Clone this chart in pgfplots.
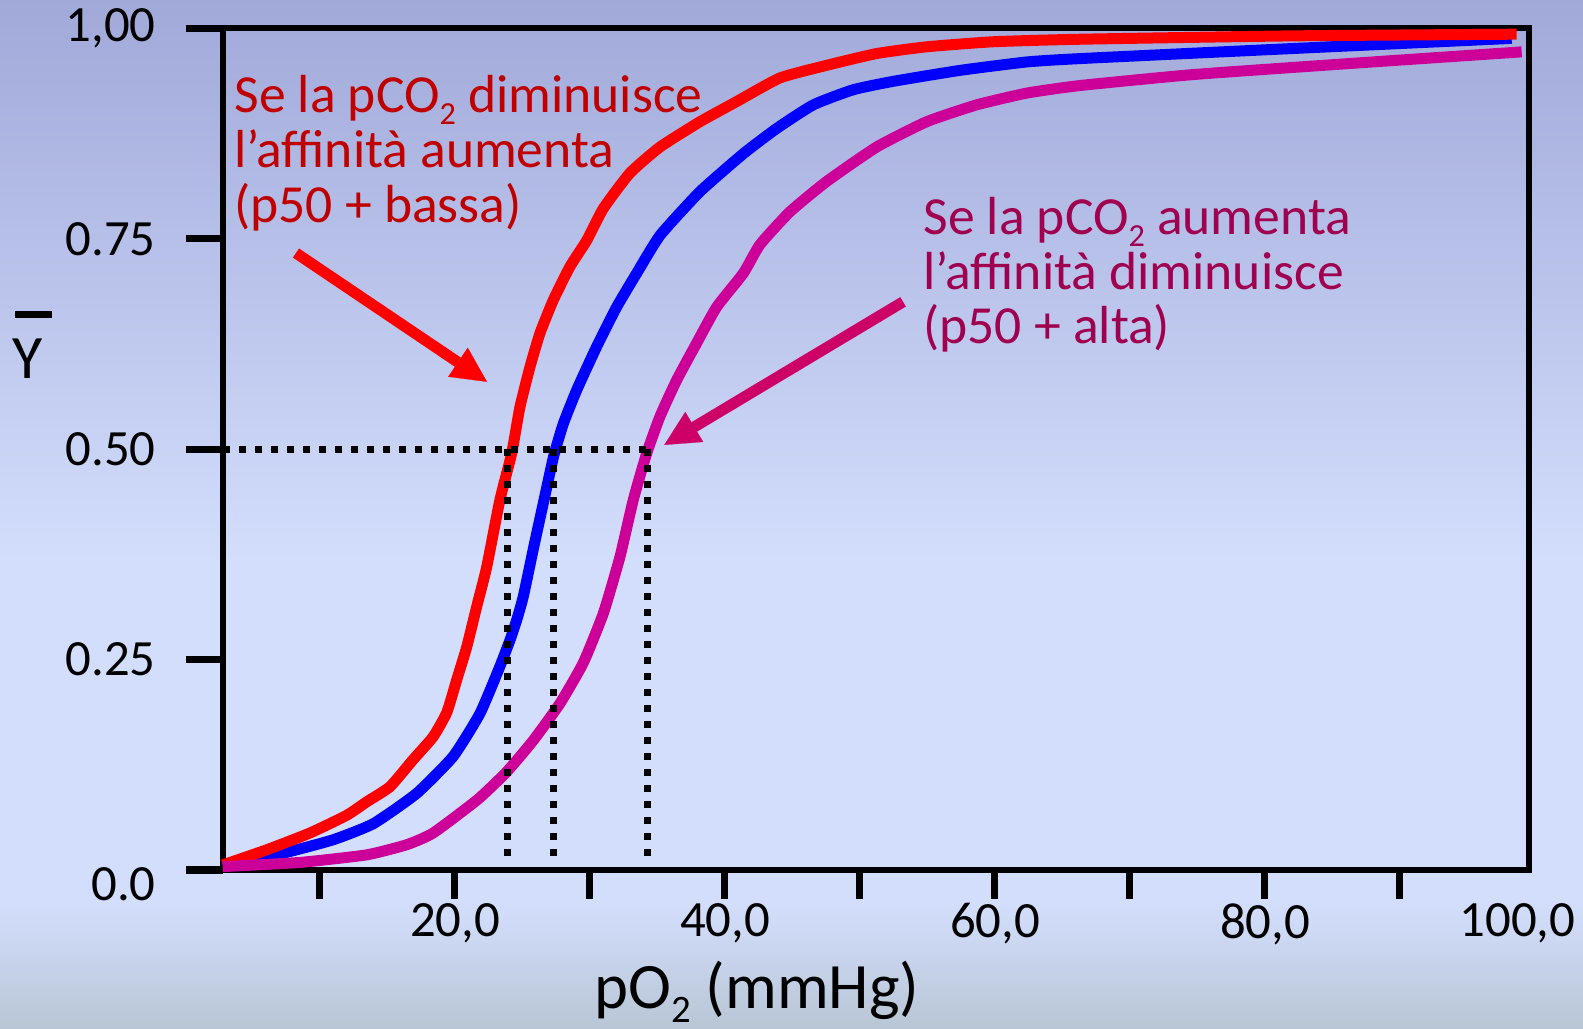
\documentclass[border=0pt]{standalone}
\usepackage{pgfplots}
\usepackage{pgfplotstable}
\pgfplotsset{compat=1.18}
\usepackage{fontspec}
\setmainfont{Carlito}
\usetikzlibrary{arrows.meta}

\definecolor{bgtop}{RGB}{161,169,217}
\definecolor{bgmid}{RGB}{211,222,252}
\definecolor{bgedge}{RGB}{206,217,245}
\definecolor{bgbot}{RGB}{184,198,213}
\definecolor{curvelow}{RGB}{255,0,0}
\definecolor{curvenorm}{RGB}{0,0,255}
\definecolor{curvehigh}{RGB}{204,0,153}
\definecolor{arrowhigh}{RGB}{204,0,102}
\definecolor{notelow}{RGB}{192,0,0}
\definecolor{notehigh}{RGB}{160,0,80}

\newcommand{\subtwo}{\raisebox{-0.22em}{\scalebox{0.6}{2}}}

% saturation curves: pO2 (mmHg) vs fractional saturation
\pgfplotstableread{
x y
2.80 0.006
6.05 0.024
9.26 0.044
11.98 0.065
13.46 0.081
15.19 0.099
16.89 0.131
18.37 0.158
19.39 0.187
20.13 0.226
20.87 0.265
21.61 0.313
22.35 0.360
23.33 0.440
24.20 0.495
24.81 0.550
25.56 0.598
26.30 0.638
27.28 0.677
28.52 0.717
29.76 0.748
30.99 0.786
32.96 0.828
35.19 0.859
38.15 0.889
40.87 0.913
44.07 0.941
47.53 0.956
51.24 0.970
54.94 0.978
59.87 0.984
66.30 0.987
82.07 0.991
98.64 0.993
}\lowco

\pgfplotstableread{
x y
2.80 0.005
7.28 0.020
10.99 0.036
13.95 0.055
17.16 0.091
19.87 0.135
21.85 0.186
23.33 0.242
24.07 0.273
24.57 0.297
25.06 0.325
25.85 0.385
26.60 0.440
27.30 0.491
28.02 0.530
29.01 0.570
30.50 0.622
31.98 0.669
33.46 0.709
35.19 0.754
38.15 0.806
41.36 0.851
43.83 0.881
46.54 0.909
49.50 0.927
52.47 0.937
57.41 0.950
62.35 0.960
66.30 0.964
82.10 0.976
98.27 0.988
}\normco

\pgfplotstableread{
x y
2.80 0.004
8.52 0.009
13.46 0.018
16.42 0.030
18.39 0.044
21.70 0.084
23.85 0.117
25.80 0.154
27.78 0.198
29.50 0.246
30.99 0.305
32.22 0.372
33.21 0.440
34.20 0.495
35.19 0.539
36.42 0.582
37.90 0.626
39.39 0.669
41.36 0.709
42.59 0.743
44.81 0.782
47.53 0.818
51.24 0.859
54.94 0.889
58.64 0.909
62.35 0.923
66.30 0.932
74.67 0.945
87.04 0.959
99.01 0.972
}\highco

\begin{document}
\begin{tikzpicture}
\useasboundingbox (0bp,0bp) rectangle (791.5bp,514.5bp);
% slide background
\fill[top color=bgtop,bottom color=bgmid] (0bp,234bp) rectangle (791.5bp,514.5bp);
\fill[bgmid] (0bp,64bp) rectangle (791.5bp,234.5bp);
\fill[top color=bgmid,bottom color=bgedge] (0bp,49bp) rectangle (791.5bp,64.5bp);
\fill[top color=bgedge,bottom color=bgbot] (0bp,0bp) rectangle (791.5bp,49.5bp);

\begin{axis}[
  at={(111.5bp,79.5bp)}, anchor=south west,
  scale only axis, width=652.75bp, height=420.85bp,
  xmin=2.815, xmax=99.52, ymin=0, ymax=1,
  clip=false,
  axis line style={line width=3bp, black},
  tick pos=left, tick align=outside,
  major tick length=18.5bp,
  tick style={black, line width=3.5bp},
  xtick={10,20,...,90},
  xticklabels={{},{20,0},{},{40,0},{},{60,0},{},{80,0},{}},
  xtick style={/pgfplots/major tick length=14.5bp},
  extra x ticks={98.7},
  extra x tick labels={100{,}0},
  extra x tick style={major tick style={draw=none}},
  ytick={0,0.25,0.5,0.75,1},
  yticklabels={{\raisebox{-7bp}[\height][\depth]{0.0}},{0.25},{0.50},{0.75},{1,00}},
  tick label style={font=\fontsize{25.5}{30}\selectfont, inner sep=0pt},
  xticklabel style={yshift=2bp},
  yticklabel style={xshift=-15bp},
  xlabel={pO\subtwo{} (mmHg)},
  xlabel style={font=\fontsize{32.5}{34}\selectfont, inner sep=0pt, anchor=base,
    at={(axis description cs:0.409,-0.1640)}},
  ylabel={\vbox{\offinterlineskip\hbox{\kern1bp\rule{18.5bp}{3.4bp}}\kern10.9bp\hbox{Y}}},
  ylabel style={rotate=-90, font=\fontsize{31}{31}\selectfont, inner sep=0pt,
    anchor=center, at={(axis description cs:-0.146,0.6239)}},
  every axis plot/.append style={line width=5.5bp, line join=round, line cap=butt},
]
\addplot[curvenorm, smooth, tension=0.3] table[x=x,y=y] {\normco};
\addplot[curvelow, smooth, tension=0.3] table[x=x,y=y] {\lowco};
\addplot[curvehigh, smooth, tension=0.3] table[x=x,y=y] {\highco};

% p50 guide lines
\addplot[black, line width=3.5bp, dash pattern=on 3.5bp off 4.5bp] coordinates {(2.815,0.5) (34.27,0.5)};
\addplot[black, line width=3.5bp, dash pattern=on 3.5bp off 4.5bp] coordinates {(23.90,0.5) (23.90,0.012)};
\addplot[black, line width=3.5bp, dash pattern=on 3.5bp off 4.5bp] coordinates {(27.31,0.5) (27.31,0.012)};
\addplot[black, line width=3.5bp, dash pattern=on 3.5bp off 4.5bp] coordinates {(34.27,0.5) (34.27,0.012)};

% pointers to the shifted curves
\draw[curvelow, line width=5.5bp, -{Triangle[length=17.5bp,width=17.5bp,line width=0.1bp]}]
  (axis cs:8.22,0.733) -- (axis cs:22.37,0.580);
\draw[arrowhigh, line width=5.5bp, -{Triangle[length=17.5bp,width=17.5bp,line width=0.1bp]}]
  (axis cs:53.19,0.675) -- (axis cs:35.50,0.505);
\end{axis}

% notes
\begin{scope}[every node/.style={anchor=base west, inner sep=0pt, font=\fontsize{26.9}{27.5}\selectfont}]
\node[text=notelow] at (117bp,458bp)
  {\vtop{\baselineskip=27.5bp\hbox{Se la pCO\subtwo{} diminuisce}\hbox{l’affinità aumenta}\hbox{(p50 + bassa)}}};
\node[text=notehigh] at (461.5bp,397bp)
  {\vtop{\baselineskip=27.25bp\hbox{Se la pCO\subtwo{} aumenta}\hbox{l’affinità diminuisce}\hbox{(p50 + alta)}}};
\end{scope}
\end{tikzpicture}
\end{document}
